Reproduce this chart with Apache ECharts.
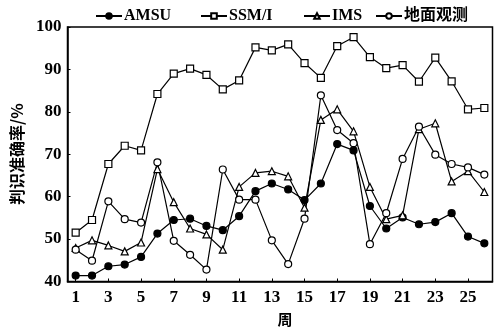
<!DOCTYPE html>
<html>
<head>
<meta charset="utf-8">
<script src="https://cdn.jsdelivr.net/npm/echarts@6/dist/echarts.min.js"></script>
<style>
  html, body { margin: 0; padding: 0; background: #fff; }
  #chart { width: 500px; height: 332px; }
</style>
</head>
<body>
<div id="chart"></div>
<script>
  // 周次
  const weeks = [1, 2, 3, 4, 5, 6, 7, 8, 9, 10, 11, 12, 13, 14, 15, 16, 17, 18, 19, 20, 21, 22, 23, 24, 25, 26];
  const xLabels = [1, 3, 5, 7, 9, 11, 13, 15, 17, 19, 21, 23, 25];
  const yTicks = [40, 50, 60, 70, 80, 90, 100];
  const seriesNames = ["AMSU", "SSM/I", "IMS", "地面观测"];

  // 判识准确率 (%)
  const amsu = [41.4, 41.4, 43.6, 44.0, 45.8, 51.3, 54.5, 54.8, 53.1, 52.1, 55.4, 61.3, 63.1, 61.7, 59.2, 63.1, 72.4, 70.9, 57.8, 52.5, 55.1, 53.5, 54.0, 56.1, 50.6, 49.0];
  const ssmi = [51.5, 54.5, 67.7, 72.0, 70.9, 84.2, 89.0, 90.2, 88.7, 85.3, 87.4, 95.2, 94.5, 95.9, 91.5, 88.0, 95.5, 97.6, 92.9, 90.3, 91.0, 87.1, 92.8, 87.2, 80.6, 80.9];
  const ims = [47.9, 49.7, 48.5, 47.1, 49.2, 66.5, 58.7, 52.5, 51.1, 47.5, 62.3, 65.6, 66.0, 64.8, 57.4, 78.1, 80.6, 75.4, 62.3, 54.7, 55.6, 75.9, 77.3, 63.6, 66.0, 61.1];
  const ground = [47.5, 44.9, 58.9, 54.7, 53.9, 68.1, 49.6, 46.3, 42.8, 66.4, 59.3, 59.3, 49.7, 44.1, 54.8, 83.9, 75.7, 72.6, 48.8, 56.1, 68.9, 76.5, 69.9, 67.7, 66.9, 65.2];

  const serif = "'Liberation Serif', 'Noto Sans CJK SC', serif";
  const cjk = "'Noto Sans CJK SC', sans-serif";

  const pairs = (vals) => weeks.map((w, i) => [w, vals[i]]);

  function lineSeries(name, vals, symbol, fill) {
    return {
      name: name,
      type: "line",
      data: pairs(vals),
      symbol: symbol,
      symbolSize: 7,
      showSymbol: true,
      lineStyle: { color: "#000", width: 1.2 },
      itemStyle: { color: fill, borderColor: "#000", borderWidth: 1.2 },
      emphasis: { disabled: true },
      animation: false,
    };
  }

  // 图例逐项定位
  const legendLeft = [90, 195, 298, 370];
  const legends = seriesNames.map((n, i) => ({
    left: legendLeft[i],
    top: 3,
    itemWidth: 26,
    itemHeight: 7,
    textStyle: { fontFamily: serif, fontWeight: "bold", fontSize: 16, color: "#000", padding: [0, 0, 0, -3] },
    data: [n],
  }));

  const chart = echarts.init(document.getElementById("chart"));
  chart.setOption({
    backgroundColor: "#fff",
    legend: legends,
    grid: {
      left: 67.5,
      right: 7.5,
      top: 27,
      bottom: 50.5,
      show: true,
      borderColor: "#000",
      borderWidth: 1.5,
    },
    xAxis: {
      type: "value",
      min: 0.5,
      max: 26.5,
      name: "周",
      nameLocation: "middle",
      nameGap: 29,
      nameTextStyle: { fontFamily: cjk, fontWeight: "bold", fontSize: 15, color: "#000", padding: [0, 0, 0, 10] },
      axisLine: { lineStyle: { color: "#000", width: 1.5 } },
      axisTick: { inside: true, length: 3, customValues: xLabels, lineStyle: { color: "#000" } },
      axisLabel: {
        customValues: xLabels,
        margin: 8,
        fontFamily: serif,
        fontWeight: "bold",
        fontSize: 17,
        color: "#000",
      },
      splitLine: { show: false },
    },
    yAxis: {
      type: "value",
      min: 40,
      max: 100,
      interval: 10,
      name: "判识准确率/%",
      nameLocation: "middle",
      nameGap: 39,
      nameTextStyle: { fontFamily: cjk, fontWeight: "bold", fontSize: 16, color: "#000" },
      axisLine: { show: true, lineStyle: { color: "#000", width: 1.5 } },
      axisTick: { show: true, inside: true, length: 3, lineStyle: { color: "#000" } },
      axisLabel: {
        margin: 6,
        fontFamily: serif,
        fontWeight: "bold",
        fontSize: 17,
        color: "#000",
        formatter: (v) => (yTicks.includes(v) ? String(v) : ""),
      },
      splitLine: { show: false },
    },
    series: [
      lineSeries("AMSU", amsu, "circle", "#000"),
      lineSeries("SSM/I", ssmi, "rect", "#fff"),
      lineSeries("IMS", ims, "triangle", "#fff"),
      lineSeries("地面观测", ground, "circle", "#fff"),
    ],
  });
</script>
</body>
</html>
